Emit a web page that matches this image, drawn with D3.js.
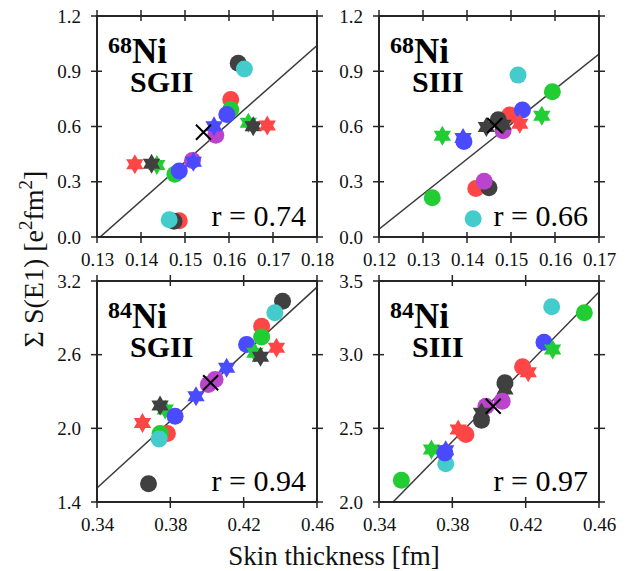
<!DOCTYPE html>
<html>
<head>
<meta charset="utf-8">
<script src="https://cdn.jsdelivr.net/npm/d3@7"></script>
<style>
  body { margin: 0; background: #fff; }
  svg { display: block; font-family: "Liberation Serif", "DejaVu Serif", serif; }
</style>
</head>
<body>
<div id="chart"></div>
<script>
// point rows: [skin thickness, sum S(E1), colour key, marker ("o" circle, "*" star)]
const ni68SgiiPoints = [
  [0.1621, 0.944, "gray", "o"],
  [0.1635, 0.912, "cyan", "o"],
  [0.1604, 0.746, "red", "o"],
  [0.1604, 0.692, "green", "o"],
  [0.1595, 0.665, "blue", "o"],
  [0.1570, 0.553, "magenta", "o"],
  [0.1566, 0.602, "blue", "*"],
  [0.1644, 0.620, "green", "*"],
  [0.1655, 0.602, "gray", "*"],
  [0.1687, 0.605, "red", "*"],
  [0.1386, 0.395, "red", "*"],
  [0.1436, 0.391, "green", "*"],
  [0.1424, 0.398, "gray", "*"],
  [0.1517, 0.416, "magenta", "o"],
  [0.1519, 0.409, "blue", "*"],
  [0.1477, 0.341, "green", "o"],
  [0.1487, 0.358, "blue", "o"],
  [0.1487, 0.088, "red", "o"],
  [0.1475, 0.085, "gray", "o"],
  [0.1464, 0.094, "cyan", "o"],
];
const ni68SiiiPoints = [
  [0.1516, 0.879, "cyan", "o"],
  [0.1594, 0.789, "green", "o"],
  [0.1497, 0.663, "red", "o"],
  [0.1526, 0.690, "blue", "o"],
  [0.1570, 0.658, "green", "*"],
  [0.1520, 0.615, "red", "*"],
  [0.1482, 0.577, "magenta", "o"],
  [0.1471, 0.636, "gray", "o"],
  [0.1444, 0.597, "gray", "*"],
  [0.1482, 0.609, "gray", "*"],
  [0.1344, 0.550, "green", "*"],
  [0.1391, 0.537, "blue", "*"],
  [0.1393, 0.519, "blue", "o"],
  [0.1420, 0.263, "red", "o"],
  [0.1450, 0.267, "gray", "o"],
  [0.1439, 0.303, "magenta", "o"],
  [0.1321, 0.213, "green", "o"],
  [0.1414, 0.099, "cyan", "o"],
];
const ni84SgiiPoints = [
  [0.4412, 3.036, "gray", "o"],
  [0.4370, 2.942, "cyan", "o"],
  [0.4298, 2.832, "red", "o"],
  [0.4298, 2.743, "green", "o"],
  [0.4216, 2.683, "blue", "o"],
  [0.4379, 2.656, "red", "*"],
  [0.4261, 2.615, "green", "*"],
  [0.4292, 2.583, "gray", "*"],
  [0.4107, 2.493, "blue", "*"],
  [0.4044, 2.398, "magenta", "o"],
  [0.4007, 2.357, "magenta", "o"],
  [0.3940, 2.261, "blue", "*"],
  [0.3772, 2.153, "green", "*"],
  [0.3744, 2.185, "gray", "*"],
  [0.3826, 2.098, "blue", "o"],
  [0.3648, 2.044, "red", "*"],
  [0.3784, 1.957, "red", "o"],
  [0.3744, 1.957, "green", "o"],
  [0.3739, 1.914, "cyan", "o"],
  [0.3681, 1.549, "gray", "o"],
];
const ni84SiiiPoints = [
  [0.4342, 3.326, "cyan", "o"],
  [0.4520, 3.285, "green", "o"],
  [0.4300, 3.085, "blue", "o"],
  [0.4347, 3.035, "green", "*"],
  [0.4183, 2.918, "red", "o"],
  [0.4214, 2.881, "red", "*"],
  [0.4087, 2.763, "gray", "*"],
  [0.4087, 2.809, "gray", "o"],
  [0.4072, 2.684, "magenta", "o"],
  [0.3983, 2.650, "magenta", "o"],
  [0.3959, 2.605, "gray", "*"],
  [0.3959, 2.555, "gray", "o"],
  [0.3874, 2.458, "red", "o"],
  [0.3832, 2.492, "red", "*"],
  [0.3686, 2.356, "green", "*"],
  [0.3764, 2.260, "cyan", "o"],
  [0.3759, 2.333, "blue", "o"],
  [0.3764, 2.351, "blue", "*"],
  [0.3522, 2.147, "green", "o"],
];

// mean point (black cross) per panel
const meanPoints = [[0.1542, 0.569], [0.1463, 0.605], [0.4020, 2.371], [0.4023, 2.650]];
// linear fit: [slope, intercept]
const fitLines = [[21.10, -2.758], [19.02, -2.240], [13.63, -3.120], [12.69, -2.412]];
const correlations = ["0.74", "0.66", "0.94", "0.97"];
const nucleusLabels = [["68", "SGII"], ["68", "SIII"], ["84", "SGII"], ["84", "SIII"]];

const xTicks68Sgii = [0.13, 0.14, 0.15, 0.16, 0.17, 0.18];
const xTicks68Siii = [0.12, 0.13, 0.14, 0.15, 0.16, 0.17];
const xTicks84 = [0.34, 0.38, 0.42, 0.46];
const yTicks68 = [0.0, 0.3, 0.6, 0.9, 1.2];
const yTicks84Sgii = [1.4, 2.0, 2.6, 3.2];
const yTicks84Siii = [2.0, 2.5, 3.0, 3.5];

const MARKER_COLORS = {
  red: "#ff4646",
  green: "#22cc33",
  blue: "#4a4aff",
  magenta: "#bb44cc",
  gray: "#404040",
  cyan: "#44cccc",
};

const WIDTH = 630;
const HEIGHT = 571;
const PANEL_W = 220;
const PANEL_H = 221;
const COL_X = [97, 379];
const ROW_Y = [16, 281];
const CIRCLE_R = 8.5;
const STAR_R = 10;
const TICK_OUT = 6;
const TICK_IN = 5;
const FRAME_COLOR = "#262626";

const panels = [
  { points: ni68SgiiPoints, xTicks: xTicks68Sgii, yTicks: yTicks68, col: 0, row: 0 },
  { points: ni68SiiiPoints, xTicks: xTicks68Siii, yTicks: yTicks68, col: 1, row: 0 },
  { points: ni84SgiiPoints, xTicks: xTicks84, yTicks: yTicks84Sgii, col: 0, row: 1 },
  { points: ni84SiiiPoints, xTicks: xTicks84, yTicks: yTicks84Siii, col: 1, row: 1 },
];

function starPath(r) {
  const inner = r / Math.sqrt(3);
  const pts = d3.range(12).map((i) => {
    const a = -Math.PI / 2 + (i * Math.PI) / 6;
    const rr = i % 2 === 0 ? r : inner;
    return [rr * Math.cos(a), rr * Math.sin(a)];
  });
  return d3.line()(pts) + "Z";
}

function crossTicks(g, scale, ticks, orient, length) {
  ticks.forEach((t) => {
    const p = scale(t);
    const line = g.append("line")
      .attr("stroke", FRAME_COLOR)
      .attr("stroke-width", 1.5);
    if (orient === "left") line.attr("x1", -TICK_OUT).attr("x2", TICK_IN).attr("y1", p).attr("y2", p);
    if (orient === "right") line.attr("x1", length - TICK_IN).attr("x2", length + TICK_OUT).attr("y1", p).attr("y2", p);
    if (orient === "top") line.attr("y1", -TICK_OUT).attr("y2", TICK_IN).attr("x1", p).attr("x2", p);
    if (orient === "bottom") line.attr("y1", length - TICK_IN).attr("y2", length + TICK_OUT).attr("x1", p).attr("x2", p);
  });
}

const svg = d3.select("#chart")
  .append("svg")
  .attr("width", WIDTH)
  .attr("height", HEIGHT)
  .attr("viewBox", [0, 0, WIDTH, HEIGHT]);

const starD = starPath(STAR_R);

panels.forEach((panel, i) => {
  const g = svg.append("g")
    .attr("transform", `translate(${COL_X[panel.col]},${ROW_Y[panel.row]})`);

  const x = d3.scaleLinear()
    .domain(d3.extent(panel.xTicks))
    .range([0, PANEL_W]);
  const y = d3.scaleLinear()
    .domain(d3.extent(panel.yTicks))
    .range([PANEL_H, 0]);

  const clipId = `clip-${i}`;
  g.append("clipPath").attr("id", clipId)
    .append("rect").attr("width", PANEL_W).attr("height", PANEL_H);

  // tick labels
  const xAxis = d3.axisBottom(x)
    .tickValues(panel.xTicks)
    .tickFormat(d3.format(".2f"))
    .tickSize(0)
    .tickPadding(16);
  g.append("g")
    .attr("transform", `translate(0,${PANEL_H})`)
    .call(xAxis)
    .call((a) => a.select(".domain").remove())
    .call((a) => a.selectAll("text")
      .attr("font-family", "Liberation Serif")
      .attr("font-size", 19)
      .attr("fill", "#111"));

  const yAxis = d3.axisLeft(y)
    .tickValues(panel.yTicks)
    .tickFormat(d3.format(".1f"))
    .tickSize(0)
    .tickPadding(16);
  g.append("g")
    .call(yAxis)
    .call((a) => a.select(".domain").remove())
    .call((a) => a.selectAll("text")
      .attr("font-family", "Liberation Serif")
      .attr("font-size", 19)
      .attr("fill", "#111"));

  // fit line
  const [slope, intercept] = fitLines[i];
  const [x0, x1] = x.domain();
  g.append("line")
    .attr("clip-path", `url(#${clipId})`)
    .attr("x1", x(x0)).attr("y1", y(slope * x0 + intercept))
    .attr("x2", x(x1)).attr("y2", y(slope * x1 + intercept))
    .attr("stroke", "#3a3a3a")
    .attr("stroke-width", 1.5);

  // markers
  const marks = g.append("g").attr("clip-path", `url(#${clipId})`);
  panel.points.forEach(([px, py, colorKey, shape]) => {
    if (shape === "o") {
      marks.append("circle")
        .attr("cx", x(px)).attr("cy", y(py))
        .attr("r", CIRCLE_R)
        .attr("fill", MARKER_COLORS[colorKey]);
    } else {
      marks.append("path")
        .attr("d", starD)
        .attr("transform", `translate(${x(px)},${y(py)})`)
        .attr("fill", MARKER_COLORS[colorKey]);
    }
  });

  // mean cross
  const [mx, my] = meanPoints[i];
  const cs = 7.5;
  g.append("path")
    .attr("d", `M${x(mx) - cs},${y(my) - cs}L${x(mx) + cs},${y(my) + cs}M${x(mx) - cs},${y(my) + cs}L${x(mx) + cs},${y(my) - cs}`)
    .attr("stroke", "#000")
    .attr("stroke-width", 2)
    .attr("fill", "none");

  // frame and ticks
  g.append("rect")
    .attr("width", PANEL_W)
    .attr("height", PANEL_H)
    .attr("fill", "none")
    .attr("stroke", FRAME_COLOR)
    .attr("stroke-width", 2);
  crossTicks(g, x, panel.xTicks, "bottom", PANEL_H);
  crossTicks(g, x, panel.xTicks, "top", PANEL_H);
  crossTicks(g, y, panel.yTicks, "left", PANEL_W);
  crossTicks(g, y, panel.yTicks, "right", PANEL_W);

  // nucleus / interaction label, one text block over two lines
  const [massNumber, force] = nucleusLabels[i];
  const label = g.append("text")
    .attr("x", 11)
    .attr("y", 47)
    .attr("font-weight", "bold")
    .attr("fill", "#000");
  label.append("tspan").attr("font-size", 24).attr("dy", -10).text(massNumber);
  label.append("tspan").attr("font-size", 35).attr("dy", 10).text("Ni");
  label.append("tspan").attr("font-size", 30).attr("x", 33).attr("dy", 29).text(force);

  g.append("text")
    .attr("x", PANEL_W - 11)
    .attr("y", PANEL_H - 11)
    .attr("text-anchor", "end")
    .attr("font-size", 30)
    .attr("fill", "#000")
    .text(`r = ${correlations[i]}`);
});

// axis titles
svg.append("text")
  .attr("x", 334)
  .attr("y", 565)
  .attr("text-anchor", "middle")
  .attr("font-size", 27)
  .attr("fill", "#111")
  .text("Skin thickness [fm]");

const yTitle = svg.append("text")
  .attr("transform", "translate(43,259) rotate(-90)")
  .attr("text-anchor", "middle")
  .attr("font-size", 28)
  .attr("fill", "#111");
yTitle.append("tspan").text("Σ S(E1) [e");
yTitle.append("tspan").attr("font-size", 19).attr("dy", -11).text("2");
yTitle.append("tspan").attr("dy", 11).text("fm");
yTitle.append("tspan").attr("font-size", 19).attr("dy", -11).text("2");
yTitle.append("tspan").attr("dy", 11).text("]");
</script>
</body>
</html>
